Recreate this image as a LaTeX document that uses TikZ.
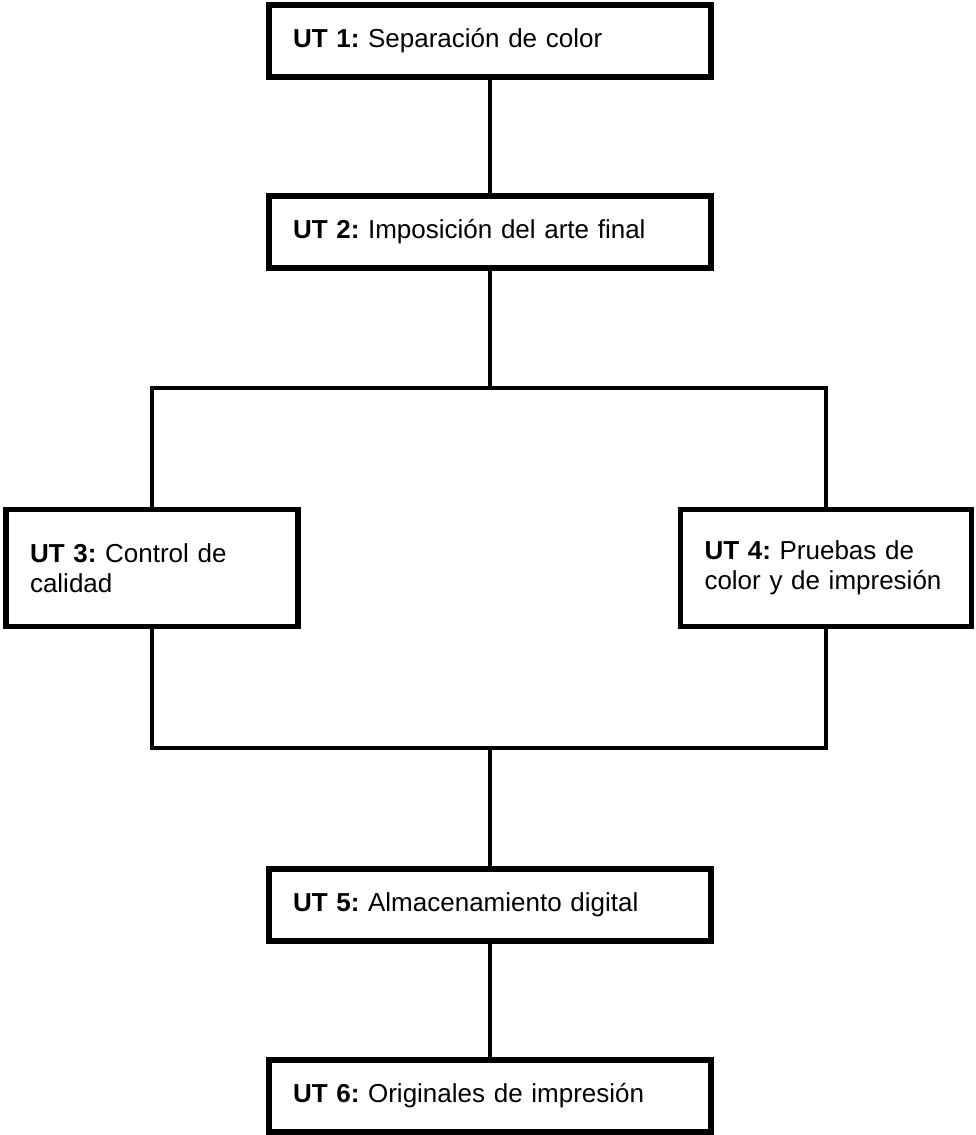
\documentclass[tikz,border=0pt]{standalone}
\usepackage{fontspec}
\setmainfont{Liberation Sans}
\usepackage{tikz}
\usetikzlibrary{positioning,calc}
\frenchspacing

\begin{document}
\begin{tikzpicture}[x=1pt, y=-1pt,
    utbox/.style={draw, line width=5.5pt, text width=#1, inner xsep=24pt, inner ysep=0pt, align=left, minimum height=72pt, font=\fontsize{26}{30}\selectfont},
    conn/.style={line width=3.2pt}
]
\useasboundingbox (0,0) rectangle (976,1135);
\node[utbox=394pt] (ut1) at (490,41) {\textbf{UT 1:} Separación de color};
\node[utbox=394pt] (ut2) at (490,232) {\textbf{UT 2:} Imposición del arte final};
\node[utbox=244pt, minimum height=117pt] (ut3) at (152,568) {\textbf{UT 3:} Control de\\calidad};
\node[utbox=243pt, minimum height=117pt] (ut4) at (826,568) {\textbf{UT 4:} Pruebas de\\color y de impresión};
\node[utbox=394pt] (ut5) at (490,905) {\textbf{UT 5:} Almacenamiento digital};
\node[utbox=394pt] (ut6) at (490,1096) {\textbf{UT 6:} Originales de impresión};

\coordinate (split) at (490,388);
\coordinate (join) at (490,748);

\draw[conn] (ut1) -- (ut2);
\draw[conn] (ut2) -- (split);
\draw[conn] (ut3) |- (split) -| (ut4);
\draw[conn] (ut3) |- (join) -| (ut4);
\draw[conn] (join) -- (ut5);
\draw[conn] (ut5) -- (ut6);
\end{tikzpicture}
\end{document}
